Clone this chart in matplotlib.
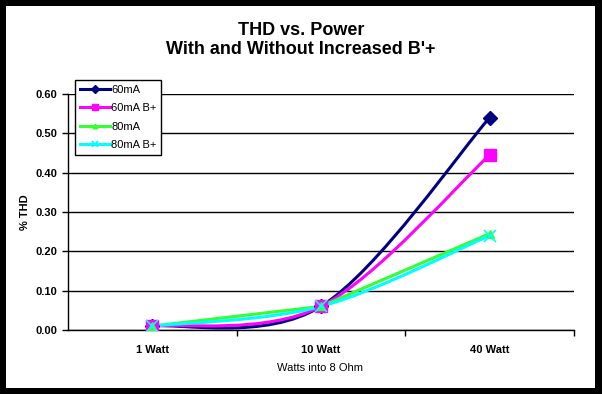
import matplotlib.pyplot as plt
import numpy as np
from matplotlib.path import Path
from matplotlib.patches import PathPatch, Rectangle
from matplotlib.lines import Line2D
from matplotlib.ticker import FormatStrFormatter, FixedLocator

plt.rcParams['font.family'] = ['Liberation Sans', 'DejaVu Sans']

# dados
categorias = ['1 Watt', '10 Watt', '40 Watt']
thd_60mA = [0.01, 0.06, 0.54]
thd_60mA_bp = [0.01, 0.06, 0.445]
thd_80mA = [0.01, 0.06, 0.245]
thd_80mA_bp = [0.01, 0.06, 0.240]

# nome, valores, cor, marcador, tamanho, suavizada
series = [
    ('60mA', thd_60mA, '#000080', 'D', 7.5, True),
    ('60mA B+', thd_60mA_bp, '#FF00FF', 's', 8.5, True),
    ('80mA', thd_80mA, '#33FF33', '^', 6, False),
    ('80mA B+', thd_80mA_bp, '#00FFFF', 'x', 8, True),
]


def curva_suave(xs, ys):
    # bezier no estilo "linha suavizada" do Excel
    p = np.column_stack([xs, ys]).astype(float)
    n = len(p)
    verts = [p[0]]
    codes = [Path.MOVETO]
    for i in range(n - 1):
        p_ant = p[max(i - 1, 0)]
        p_prox = p[min(i + 2, n - 1)]
        c1 = p[i] + (p[i + 1] - p_ant) / 6
        c2 = p[i + 1] - (p_prox - p[i]) / 6
        verts += [c1, c2, p[i + 1]]
        codes += [Path.CURVE4] * 3
    return Path(verts, codes)


fig = plt.figure(figsize=(6.02, 3.94), dpi=100)
fig.patch.set_facecolor('black')
fig.add_artist(Rectangle((6 / 602, 6 / 394), 589 / 602, 382 / 394,
                         transform=fig.transFigure, facecolor='white',
                         edgecolor='none', zorder=-1))

ax = fig.add_axes([68 / 602, 1 - 330 / 394, 506 / 602, 236 / 394])
ax.set_facecolor('none')

x = np.arange(len(categorias))
handles = []
for nome, vals, cor, mk, ms, suave in series:
    if suave:
        ax.add_patch(PathPatch(curva_suave(x, vals), facecolor='none',
                               edgecolor=cor, lw=2.2, zorder=3,
                               capstyle='round'))
    else:
        ax.plot(x, vals, color=cor, lw=2.2, zorder=3)
    mew = 1.2 if mk == 'x' else 1
    ax.plot(x, vals, linestyle='none', marker=mk, ms=ms, color=cor,
            mec=cor, mew=mew, zorder=4)
    handles.append(Line2D([], [], color=cor, lw=2.2, marker=mk,
                          ms=ms * 0.55, mew=mew, label=nome))

ax.set_xlim(-0.5, 2.5)
ax.set_ylim(0, 0.6)
ax.set_yticks(np.arange(0, 0.61, 0.1))
ax.yaxis.set_major_formatter(FormatStrFormatter('%.2f'))
ax.grid(axis='y', color='black', lw=1)
ax.set_axisbelow(True)

ax.set_xticks(x)
ax.set_xticklabels(categorias, fontweight='bold', fontsize=8)
ax.tick_params(axis='x', which='major', length=0, pad=11)
ax.xaxis.set_minor_locator(FixedLocator([0.5, 1.5, 2.5]))
ax.tick_params(axis='x', which='minor', length=4, width=1, direction='out')
ax.tick_params(axis='y', length=4, width=1, direction='out', pad=4,
               labelsize=8)
for lab in ax.get_yticklabels():
    lab.set_fontweight('bold')

for s in ['top', 'right']:
    ax.spines[s].set_visible(False)
for s in ['left', 'bottom']:
    ax.spines[s].set_linewidth(1)
    ax.spines[s].set_color('black')

fig.text(320 / 602, 1 - 368 / 394, 'Watts into 8 Ohm', ha='center',
         va='center', fontsize=8)
fig.text(25 / 602, 1 - 212 / 394, '% THD', ha='center', va='center',
         rotation=90, fontsize=8, fontweight='bold')
fig.text(301 / 602, 1 - 40 / 394, "THD vs. Power\nWith and Without Increased B'+",
         ha='center', va='center', fontsize=13, fontweight='bold',
         linespacing=1.15)

leg = fig.legend(handles=handles, loc='upper left',
                 bbox_to_anchor=(75 / 602, 1 - 80 / 394), fontsize=8,
                 frameon=True, fancybox=False, framealpha=1,
                 edgecolor='black', handlelength=2.7, handletextpad=0.1,
                 labelspacing=0.75, borderpad=0.45, borderaxespad=0)
leg.get_frame().set_linewidth(1)

fig.savefig('out.png', dpi=100, facecolor=fig.get_facecolor())
